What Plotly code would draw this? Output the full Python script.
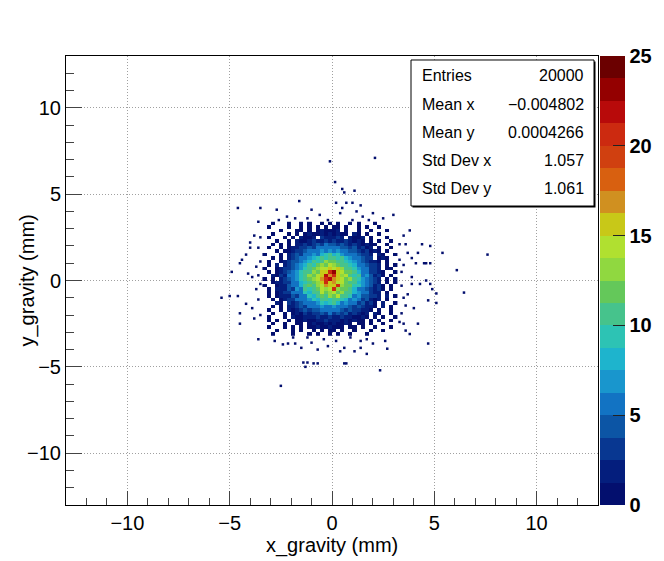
import plotly.graph_objects as go

# palette bands, bottom (0 entries) to top (25 entries)
band_colors = [
    "#030f6e", "#041e7d", "#083791", "#0c55a5", "#1273c3",
    "#1996cd", "#1eb4cd", "#2dc3b4", "#46c38c", "#64c85a",
    "#90d840", "#b0e030", "#c8c818", "#d09020", "#d86010",
    "#d04010", "#cc2a10", "#b80a0a", "#940000", "#6b0000",
]
z_min, z_max = 0, 25
cbar_ticks = [0, 5, 10, 15, 20, 25]

# bin contents of the dense core, 0.2 mm cells, top row (y=3.3) first,
# columns from x=-3.3 ; '.' = empty, '1'..'9','a'..'p' = 1..25 entries
core_rows = [
    "..1...1..1.1..1." + "1" + ".1..1.1...1.....",
    ".1....1..1.1.1.1" + "." + "11.1..1.1..1....",
    "....1...11.1.121" + "1" + "12.1..1..1...1..",
    "..1...1.1.121121" + "2" + "1211.21.1..1....",
    ".1...1.1.2112.32" + "2" + "232.2112.1...1..",
    "...1..1.21123223" + "2" + "32232121.1.1..1.",
    "..1.1." + "1.22323435" + "4" + "4343232121" + "1..1..",
    ".1..1." + "1223343556" + "5" + "6544342312" + ".1..1.",
    "...1.1" + "1233455676" + "7" + "6756443231" + "21.1..",
    "1...1." + "2343567689" + "a" + "8976654332" + ".21..1",
    "..1.1." + "23456789a9" + "b" + "a9b8756433" + ".121..",
    ".1..12" + "344678a9bd" + "c" + "cba9875432" + "21.1..",
    ".1.2.2" + "34578a9cdc" + "e" + "dcba986643" + "32.1.1",
    "1..123" + "34679acdee" + "f" + "egdba97553" + "32.11.",
    ".1.123" + "4579abdcfg" + "k" + "nfecca8653" + "321..1",
    "..2132" + "5579bdcegm" + "h" + "kfdeb9a674" + "231.1.",
    "1.1.23" + "4679acdehk" + "m" + "hgecdb9754" + "32.1.1",
    "..1223" + "36589bcdfk" + "g" + "heecba8764" + "32.1.1",
    "1..122" + "4668acbdeh" + "f" + "gkdcc99754" + "231.1.",
    ".1.222" + "4375a9bced" + "e" + "kdcca86643" + "231.1.",
    ".1.123" + "356698abec" + "d" + "ecdab87553" + "22.1..",
    ".1.122" + "2435698acb" + "d" + "ceab967443" + "32.2.1",
    "..1.12" + "33565798ba" + "9" + "ba98675342" + "12.1..",
    "...21." + "3234656798" + "9" + "a867563423" + "1.2..1",
    "..1.1." + "2234356576" + "6" + "7565434322" + "1.2.1.",
    ".1..1." + "2123434465" + "6" + "5643433221" + ".1..1.",
    "..1..1" + ".121323343" + "5" + "343423212." + "21..1.",
    ".1...1.211222322" + "3" + "223221121.1.1..1",
    ".1.1..1.11211223" + "2" + "22121211.1.1..1.",
    "..1..1..11.12112" + "1" + "21121.11.1..1...",
    ".1...1.1.1.11211" + "2" + "111.11.1..1...1.",
    "...1...1.1..1.1." + "1" + "1.1..1...1..1...",
    "..1....1...1.1.." + "1" + ".1..1...1.......",
]
core_x0, core_y_top, core_step = -3.3, 3.3, 0.2
levels = "123456789abcdefghijklmnop"

# single entries scattered outside the core grid (mm)
halo_x = [
    -0.1, 2.1, 0.15, 0.5, 0.6, 1.1, 0.2, 0.7, 1.0, 1.4, 0.5, 2.0, 3.0, -1.6, -2.7,
    -3.5, -4.6, -0.6, -1.2, 1.5, -2.2,
    -3.6, -3.8, -4.4, -4.5, -4.2, -4.9, -3.6, -5.4, -5.0, -4.6, -4.2, -4.5, -4.5,
    -3.6, -3.9, -3.7, -4.0, -3.5,
    -2.4, -2.15, -1.8, -1.5, -0.7, -1.4, -1.2, -0.9, -0.7, -1.3, -1.0, 0.6, 0.7,
    2.35, 2.7, 1.7, 1.1, 0.4, 0.6, 2.0, -2.5, 0.2, 1.4,
    3.8, 4.7, 3.5, 4.2, 3.9, 4.3, 3.7, 3.6, 4.8, 5.1, 3.8, 4.4, 3.6, 4.2, 4.8,
    4.5, 4.1, 3.3, 4.8, 5.4, 4.6, 7.6, 6.1, 4.6, 4.9, 6.45, 4.7, 5.1, 3.4, 3.5, 3.3,
    -3.5, -3.7, -3.5, -3.6, -3.9, -3.5, -4.0, -3.8, -4.1, -3.6,
    3.4, 3.5, 3.7, 3.4, 3.6, 3.9, 4.0, 3.3, 3.5, 3.9,
    -1.8, -0.2, 0.4, 1.0, 1.8, -2.6, 2.5, -1.0, 1.2,
    -1.9, -0.4, 0.9, 1.7, -1.2, 2.6, -0.2, 1.4, -2.8,
]
halo_y = [
    6.9, 7.1, 5.7, 5.3, 5.1, 5.2, 4.5, 4.5, 4.5, 4.35, 4.2, 3.9, 3.8, 4.6, 4.1,
    4.2, 4.2, 3.8, 3.6, 3.7, 3.7,
    3.4, 2.6, 1.2, 1.0, 1.5, 0.5, 1.9, -1.0, -0.9, -0.9, -1.35, -1.9, -2.5,
    -3.4, 0.2, -0.5, 2.2, -2.0,
    -3.7, -3.65, -3.65, -3.9, -4.0, -4.75, -4.75, -4.8, -4.8, -5.0, -3.6, -4.8, -4.8,
    -5.2, -3.95, -4.25, -4.1, -4.1, -3.9, -3.65, -6.1, -3.5, -3.5,
    -3.1, -3.65, -2.5, -2.5, -0.2, -0.2, -0.8, -1.45, -0.2, -0.75, 2.9, 2.1, 2.1, 1.6, 1.0,
    1.0, 1.0, 2.1, 2.0, 1.6, 1.0, 1.5, 0.6, 0.0, -0.5, -0.7, -1.15, -1.3, 0.5, -1.0, 1.2,
    1.1, 0.8, -0.2, -1.1, -1.6, 2.5, 1.9, -2.2, 0.4, 0.3,
    -0.3, 0.9, 1.6, -1.9, -2.9, 1.3, -1.6, -2.4, 2.6, 0.2,
    3.6, 3.5, 3.9, 3.5, 3.5, 3.5, 3.6, 4.1, 4.0,
    -3.3, -3.4, -3.3, -3.4, -3.3, -3.5, -3.8, -3.9, -3.5,
]

stats_labels = ["Entries", "Mean x", "Mean y", "Std Dev x", "Std Dev y"]
stats_values = ["20000", "\u22120.004802", "0.0004266", "1.057", "1.061"]

for row in core_rows:
    assert len(row) == 33, row

z = [[None if c == "." else levels.index(c) + 1 for c in row] for row in reversed(core_rows)]

n = len(band_colors)
colorscale = []
for k, c in enumerate(band_colors):
    colorscale.append([k / n, c])
    colorscale.append([(k + 1) / n, c])

FONT = "Liberation Sans, Arial, sans-serif"

fig = go.Figure()

fig.add_trace(
    go.Heatmap(
        z=z,
        x0=core_x0, dx=core_step,
        y0=core_y_top - core_step * (len(core_rows) - 1), dy=core_step,
        colorscale=colorscale, zmin=z_min, zmax=z_max,
        zsmooth=False, hoverongaps=False,
        colorbar=dict(
            thickness=25, thicknessmode="pixels",
            len=1, lenmode="fraction", y=0.5, yanchor="middle",
            x=1.0038, xanchor="left", xpad=0, ypad=0,
            outlinewidth=0,
            tickvals=cbar_ticks, ticks="inside", ticklen=12,
            tickcolor="#222", tickwidth=1,
            tickfont=dict(family=FONT, size=20, color="black", weight="bold"),
        ),
    )
)

fig.add_trace(
    go.Scatter(
        x=halo_x, y=halo_y, mode="markers", showlegend=False,
        marker=dict(symbol="square", size=2.5, color=band_colors[0], line_width=0),
    )
)

axis_common = dict(
    range=[-13, 13], dtick=5, tick0=0, automargin=False,
    ticks="inside", tickcolor="#444", tickwidth=1,
    showgrid=True, gridcolor="#a0a0a0", griddash="1px,2px", gridwidth=1,
    zeroline=False, showline=True, linecolor="black", linewidth=1, mirror=True,
    tickfont=dict(family=FONT, size=20, color="black"),
)

fig.update_layout(
    width=664, height=561,
    margin=dict(l=66, r=66, t=56, b=56, autoexpand=False),
    plot_bgcolor="white", paper_bgcolor="white",
    font=dict(family=FONT, color="black"),
    xaxis=dict(
        **axis_common, ticklen=14,
        minor=dict(dtick=1, ticks="inside", ticklen=7, tickcolor="#444", showgrid=False),
    ),
    yaxis=dict(
        **axis_common, ticklen=16,
        minor=dict(dtick=1, ticks="inside", ticklen=8, tickcolor="#444", showgrid=False),
    ),
)

# axis titles placed where ROOT puts them
fig.add_annotation(x=0.5, y=-0.091, xref="paper", yref="paper", text="x_gravity (mm)",
                   showarrow=False, xanchor="center", yanchor="middle",
                   font=dict(family=FONT, size=20, color="black"))
fig.add_annotation(x=-0.0733, y=0.5, xref="paper", yref="paper", text="y_gravity (mm)",
                   showarrow=False, xanchor="center", yanchor="middle", textangle=-90,
                   font=dict(family=FONT, size=20, color="black"))

# statistics box
bx0, bx1, by0, by1 = 0.6485, 0.9925, 0.6659, 0.9911
fig.add_shape(type="rect", xref="paper", yref="paper",
              x0=bx0 + 0.0028, x1=bx1 + 0.0028, y0=by0 - 0.0033, y1=by1 - 0.0033,
              fillcolor="black", line_width=0)
fig.add_shape(type="rect", xref="paper", yref="paper",
              x0=bx0, x1=bx1, y0=by0, y1=by1,
              fillcolor="white", line=dict(color="black", width=1))
for i, (lab, val) in enumerate(zip(stats_labels, stats_values)):
    yy = 0.9555 - i * 0.0629
    fig.add_annotation(x=0.6654, y=yy, xref="paper", yref="paper", text=lab,
                       showarrow=False, xanchor="left", yanchor="middle",
                       font=dict(family=FONT, size=16, color="black"))
    fig.add_annotation(x=0.9774, y=yy, xref="paper", yref="paper", text=val,
                       showarrow=False, xanchor="right", yanchor="middle",
                       font=dict(family=FONT, size=16, color="black"))

# the page body has a default 8px margin; drop it so the figure fills the window
fig.write_html("out.html", config={"displayModeBar": False},
               post_script="document.body.style.margin='0';")
